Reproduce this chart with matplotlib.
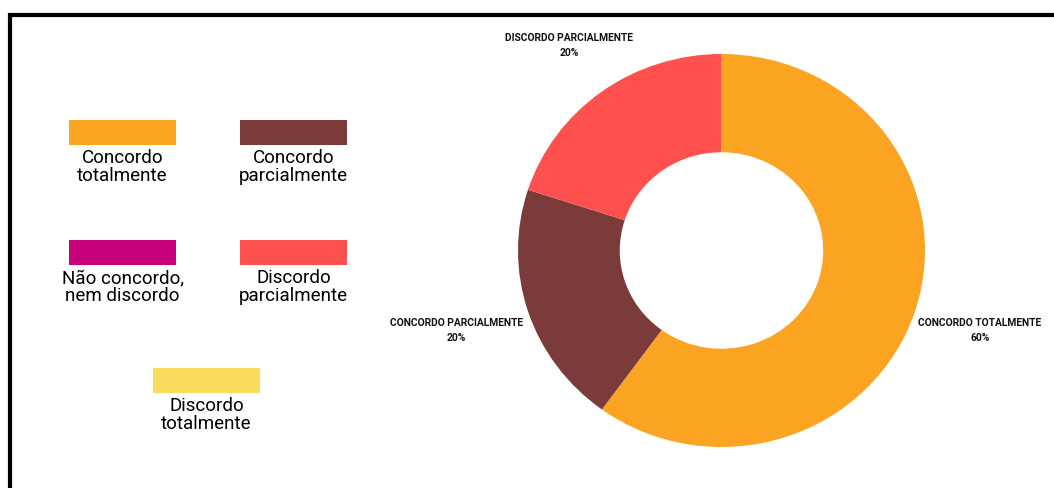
import matplotlib.pyplot as plt

# legend categories (all answer options) and their colours
categorias = ['Concordo\ntotalmente', 'Concordo\nparcialmente',
              'Não concordo,\nnem discordo', 'Discordo\nparcialmente',
              'Discordo\ntotalmente']
cores_cat = ['#FBA422', '#7B3B3B', '#C8007A', '#FF5050', '#F9DC5C']

# slices actually present in the donut
fatias = ['CONCORDO TOTALMENTE', 'CONCORDO PARCIALMENTE', 'DISCORDO PARCIALMENTE']
valores = [60, 20, 20]
cores_fatias = ['#FBA422', '#7B3B3B', '#FF5050']

W, H = 1054, 488
fig = plt.figure(figsize=(W / 100, H / 100), dpi=100)

# donut
ax = fig.add_axes([518 / W, 1 - 447 / H, 407 / W, 393 / H])
ax.pie(valores, colors=cores_fatias, startangle=90, counterclock=False,
       wedgeprops=dict(width=0.5, edgecolor='none'), radius=1)
ax.set_aspect('auto')
ax.set_xlim(-1, 1)
ax.set_ylim(-1, 1)
ax.axis('off')

# overlay in pixel coords for frame, legend and slice labels
ov = fig.add_axes([0, 0, 1, 1], zorder=-1)
ov.set_xlim(0, W)
ov.set_ylim(H, 0)
ov.axis('off')
ov.plot([10, 10, W], [H, 15, 15], color='black', lw=3, solid_joinstyle='miter')

fam = ['Roboto', 'DejaVu Sans']

# legend boxes: (left, top) of each swatch
pos_leg = [(69, 120), (240, 120), (69, 240), (240, 240), (153, 368)]
for (x0, y0), nome, cor in zip(pos_leg, categorias, cores_cat):
    ov.add_patch(plt.Rectangle((x0, y0), 107, 25, color=cor, lw=0))
    ov.text(x0 + 53.5, y0 + 29, nome, ha='center', va='top', fontsize=13.5,
            family=fam, linespacing=1.0, color='black')

# slice labels
pos_lab = [(980, 318), (456, 318), (569, 33)]
for (x, y), nome, v in zip(pos_lab, fatias, valores):
    ov.text(x, y, f'{nome}\n{v}%', ha='center', va='top', fontsize=7.4,
            family=fam, fontweight='bold', linespacing=1.6, color='#111111')

fig.savefig('out.png', dpi=100)
